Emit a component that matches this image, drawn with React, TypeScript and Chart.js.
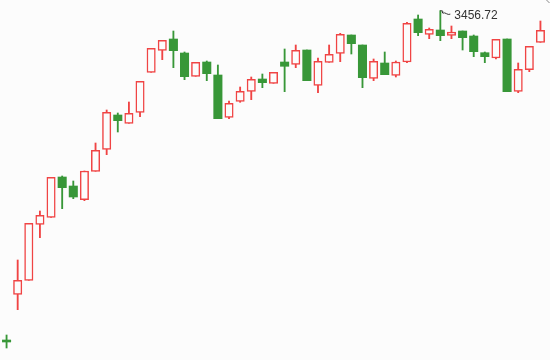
import React, { useEffect, useRef } from "react";
import { Chart, registerables } from "chart.js";

Chart.register(...registerables);

const categories = Array.from({ length: 49 }, (_, i) => `D${i + 1}`);

const opens = [
  1810, 2038.5, 2108.5, 2388.5, 2423.5, 2625, 2580, 2511.5, 2653.5, 2763.5,
  2935, 2893.5, 2948.5, 3148.5, 3258.5, 3315, 3245, 3128.5, 3200, 3135,
  2923.5, 3003.5, 3053.5, 3115, 3093.5, 3200, 3188.5, 3260, 3083.5, 3198.5,
  3243.5, 3335, 3285, 3118.5, 3195, 3133.5, 3200, 3415, 3338.5, 3360,
  3333.5, 3355, 3330, 3246.5, 3220, 3315, 3053.5, 3161.5, 3298.5,
];
const closes = [
  1800, 2108.5, 2393.5, 2433.5, 2623.5, 2571.5, 2525, 2655, 2758.5, 2948.5,
  2906.5, 2943.5, 3103.5, 3268.5, 3308.5, 3256.5, 3126.5, 3198.5, 3141.5, 2916.5,
  2993.5, 3053.5, 3113.5, 3096.5, 3148.5, 3178.5, 3258.5, 3106.5, 3203.5, 3238.5,
  3338.5, 3291.5, 3121.5, 3203.5, 3136.5, 3200, 3393.5, 3346.5, 3363.5, 3331.5,
  3350, 3321.5, 3251.5, 3226.5, 3313.5, 3051.5, 3163.5, 3278.5, 3358.5,
];
const lows = [
  1770, 1961.5, 2108.5, 2321.5, 2423.5, 2466.5, 2516.5, 2506.5, 2653.5, 2736.5,
  2850, 2893.5, 2926.5, 3148.5, 3211.5, 3171.5, 3111.5, 3128.5, 3106.5, 2916.5,
  2916.5, 2998.5, 3011.5, 3071.5, 3093.5, 3051.5, 3171.5, 3106.5, 3046.5, 3198.5,
  3201.5, 3240, 3071.5, 3106.5, 3136.5, 3125, 3196.5, 3331.5, 3316.5, 3306.5,
  3316.5, 3260, 3226.5, 3196.5, 3215, 3051.5, 3046.5, 3151.5, 3298.5,
];
const highs = [
  1835, 2210, 2393.5, 2455, 2623.5, 2630, 2605, 2655, 2795, 2960,
  2945, 3000, 3103.5, 3268.5, 3308.5, 3355, 3250, 3198.5, 3205, 3185,
  3005, 3075, 3125, 3140, 3148.5, 3265, 3285, 3260, 3220, 3285,
  3343.5, 3335, 3285, 3215, 3250, 3205, 3398.5, 3435, 3370, 3456.72,
  3380, 3355, 3335, 3250, 3313.5, 3315, 3195, 3278.5, 3405,
];

const UP = "#f04444";
const DOWN = "#389738";
const BG = "#fcfcfc";

export default function App() {
  const ref = useRef<HTMLCanvasElement>(null);

  useEffect(() => {
    if (!ref.current) return;
    const isUp = opens.map((o, i) => closes[i] > o);
    const bodies = opens.map((o, i) => [o, closes[i]]);
    const wicks = lows.map((l, i) => [l, highs[i]]);
    const maxVal = Math.max(...highs);
    const maxIdx = highs.indexOf(maxVal);

    const markPlugin = {
      id: "maxMark",
      afterDatasetsDraw(chart: any) {
        const ctx = chart.ctx;
        const x = chart.scales.x.getPixelForValue(maxIdx);
        const y = chart.scales.y.getPixelForValue(maxVal);
        ctx.save();
        ctx.strokeStyle = "#333";
        ctx.lineWidth = 1;
        ctx.beginPath();
        ctx.moveTo(x, y);
        ctx.lineTo(x + 2.5, y + 0.5);
        ctx.lineTo(x + 2, y + 2.5);
        ctx.moveTo(x + 2.5, y + 2.5);
        ctx.bezierCurveTo(x + 5, y + 1, x + 7, y + 5, x + 10, y + 3.5);
        ctx.stroke();
        ctx.fillStyle = "#333";
        ctx.font = '12px "Liberation Sans", Arial, sans-serif';
        ctx.textBaseline = "middle";
        ctx.textAlign = "left";
        ctx.fillText(maxVal.toFixed(2), x + 14, y + 5.5);
        // small corner mark
        ctx.strokeStyle = "#888";
        ctx.beginPath();
        ctx.moveTo(546.5, 0);
        ctx.lineTo(549.5, 3);
        ctx.stroke();
        ctx.restore();
      },
    };

    const chart = new Chart(ref.current, {
      type: "bar",
      data: {
        labels: categories,
        datasets: [
          {
            label: "body",
            data: bodies as any,
            backgroundColor: isUp.map((u) => (u ? BG : DOWN)),
            borderColor: isUp.map((u) => (u ? UP : DOWN)),
            borderWidth: isUp.map((u) => (u ? 1.5 : 0)) as any,
            borderSkipped: false,
            barThickness: 8.4,
            grouped: false,
            order: 0,
          } as any,
          {
            label: "wick",
            data: wicks as any,
            backgroundColor: isUp.map((u) => (u ? UP : DOWN)),
            borderWidth: 0,
            barThickness: 1.2,
            grouped: false,
            order: 1,
          } as any,
        ],
      },
      options: {
        animation: false,
        responsive: false,
        layout: { padding: { left: 1, right: 4, top: 0, bottom: 0 } },
        plugins: {
          legend: { display: false },
          tooltip: { enabled: false },
        },
        scales: {
          x: { display: false, offset: true },
          y: { display: false, min: 1710, max: 3510 },
        },
      },
      plugins: [markPlugin],
    });
    return () => chart.destroy();
  }, []);

  return (
    <div
      style={{
        position: "fixed",
        left: 0,
        top: 0,
        width: 550,
        height: 360,
        background: BG,
      }}
    >
      <canvas ref={ref} width={550} height={360} style={{ display: "block" }} />
    </div>
  );
}
